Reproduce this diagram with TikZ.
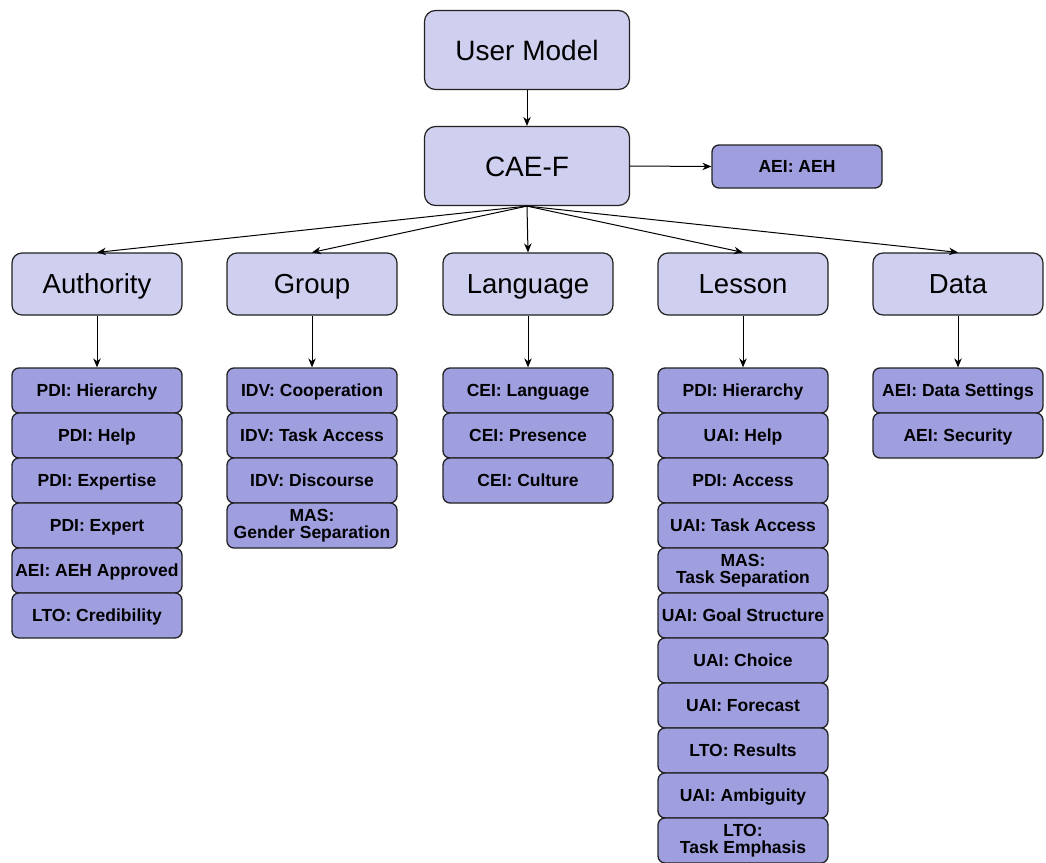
\documentclass[tikz,border=0pt]{standalone}
\usepackage{fontspec}
\setmainfont{Liberation Sans}
\usetikzlibrary{arrows.meta}
\definecolor{catfill}{HTML}{CFCFEF}
\definecolor{itemfill}{HTML}{9F9FE0}
\definecolor{edge}{HTML}{222222}
\begin{document}
\begin{tikzpicture}[x=1pt,y=-1pt,
  topbox/.style={draw=edge, line width=1.2pt, fill=catfill, rounded corners=11pt,
    minimum width=205pt, minimum height=79pt, inner sep=0pt,
    text height=20.2pt, text depth=0pt,
    font=\fontsize{28}{32}\selectfont},
  catbox/.style={draw=edge, line width=1.2pt, fill=catfill, rounded corners=10pt,
    minimum width=170pt, minimum height=62pt, inner sep=0pt,
    text height=19.8pt, text depth=0pt,
    font=\fontsize{27.5}{31}\selectfont},
  itembox/.style={draw=edge, line width=1.3pt, fill=itemfill, rounded corners=7pt,
    minimum width=170pt, minimum height=45pt, inner sep=0pt, align=center,
    text height=12.6pt, text depth=0pt,
    font=\bfseries\fontsize{17.5}{17.5}\selectfont},
  twoline/.style={text height={}, text depth={}},
  link/.style={-{Stealth[length=9pt,width=7.5pt]}, line width=1pt, draw=black}
]
\useasboundingbox (0,0) rectangle (1046,862);

% top of the hierarchy
\node[topbox] (um)  at (527,50)  {User Model};
\node[topbox] (cae) at (527,166) {CAE-F};
\node[itembox, minimum height=43pt] (aeh) at (797,166.5) {AEI: AEH};
\draw[link] (um) -- (cae);
\draw[link] (cae.east) -- (aeh.west);

% categories
\node[catbox] (auth) at (97,284)  {Authority};
\node[catbox] (grp)  at (312,284) {Group};
\node[catbox] (lang) at (528,284) {Language};
\node[catbox] (less) at (743,284) {Lesson};
\node[catbox] (data) at (958,284) {Data};
\foreach \c in {auth,grp,lang,less,data}
  \draw[link] (cae.south) -- (\c.north);

% stacked items under each category
\foreach \t [count=\i] in {PDI: Hierarchy, PDI: Help, PDI: Expertise, PDI: Expert,
    AEI: AEH Approved, LTO: Credibility}
  \node[itembox] (auth\i) at (97,345.5+45*\i) {\t};
\foreach \t [count=\i] in {IDV: Cooperation, IDV: Task Access, IDV: Discourse}
  \node[itembox] (grp\i) at (312,345.5+45*\i) {\t};
\node[itembox, twoline] (grp4) at (312,525.5) {MAS:\\Gender Separation};
\foreach \t [count=\i] in {CEI: Language, CEI: Presence, CEI: Culture}
  \node[itembox] (lang\i) at (528,345.5+45*\i) {\t};
\foreach \t [count=\i] in {PDI: Hierarchy, UAI: Help, PDI: Access, UAI: Task Access}
  \node[itembox] (less\i) at (743,345.5+45*\i) {\t};
\node[itembox, twoline] (less5) at (743,570.5) {MAS:\\Task Separation};
\foreach \t [count=\i from 6] in {UAI: Goal Structure, UAI: Choice, UAI: Forecast,
    LTO: Results, UAI: Ambiguity}
  \node[itembox] (less\i) at (743,345.5+45*\i) {\t};
\node[itembox, twoline] (less11) at (743,840.5) {LTO:\\Task Emphasis};
\foreach \t [count=\i] in {AEI: Data Settings, AEI: Security}
  \node[itembox] (data\i) at (958,345.5+45*\i) {\t};

\foreach \c in {auth,grp,lang,less,data}
  \draw[link] (\c.south) -- (\c1.north);
\end{tikzpicture}
\end{document}
